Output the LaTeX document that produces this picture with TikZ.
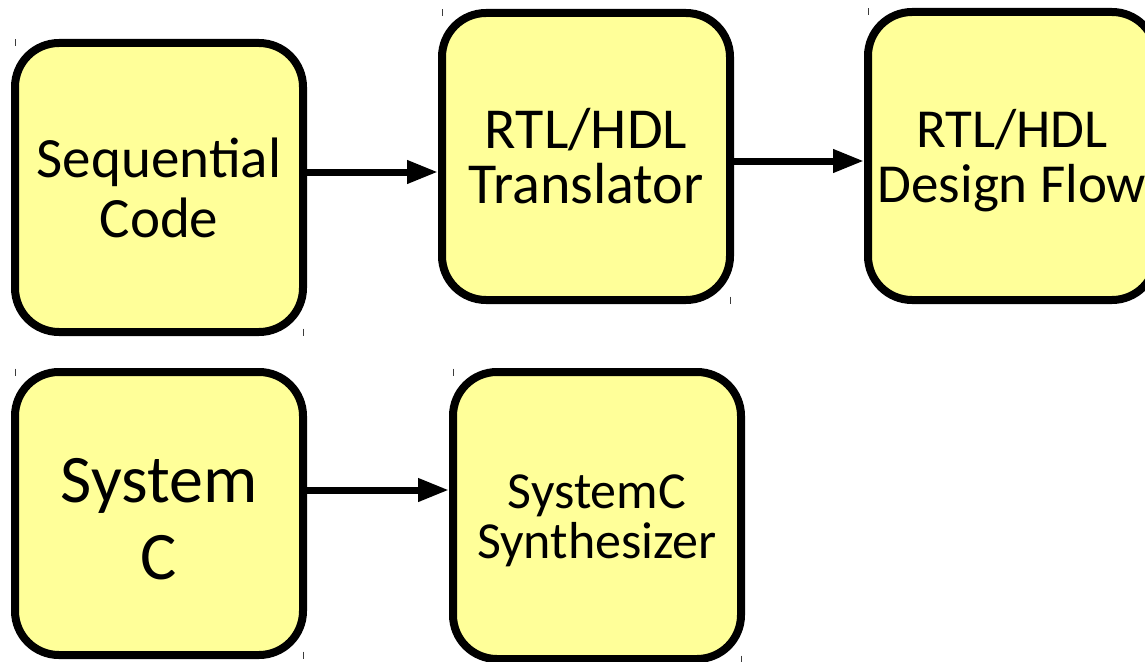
\documentclass[tikz,border=0pt]{standalone}
\usepackage{fontspec}
\setmainfont{Carlito}
\usetikzlibrary{arrows.meta}
\definecolor{boxfill}{RGB}{255,255,153}
\definecolor{tickcol}{RGB}{60,60,60}
\tikzset{
  blockbox/.style={draw=black, fill=boxfill, line width=8pt, rounded corners=44pt,
    outer sep=0pt, inner sep=0pt},
  blocktext/.style={align=center, text=black, inner sep=0pt},
  arr/.style={line width=7pt, -{Triangle[length=31pt,width=22pt]}, shorten >=4pt},
  tickmark/.style={draw=tickcol, line width=1pt}
}
\begin{document}
\begin{tikzpicture}[x=1pt,y=-1pt]
\useasboundingbox (0,0) rectangle (1145,661);
\clip (0,0) rectangle (1145,661);
\node[blockbox, minimum width=288pt, minimum height=289pt] (seq) at (159,187.5) {};
\node[blockbox, minimum width=288pt, minimum height=287pt] (trans) at (586,156.5) {};
\node[blockbox, minimum width=288pt, minimum height=288pt] (flow) at (1012,156) {};
\node[blockbox, minimum width=288pt, minimum height=283pt] (sysc) at (159,513.5) {};
\node[blockbox, minimum width=288pt, minimum height=287pt] (synth) at (597,515.5) {};

\node[blocktext, font=\fontsize{57}{60}\selectfont] (seqt) at ([yshift=0pt]seq.center) {Sequential\\Code};
\node[blocktext, font=\fontsize{58}{55}\selectfont] (transt) at ([yshift=0pt]trans.center) {RTL/HDL\\Translator};
\node[blocktext, font=\fontsize{55}{55}\selectfont] (flowt) at ([yshift=-5pt]flow.center) {RTL/HDL\\Design Flow};
\node[blocktext, font=\fontsize{68}{77}\selectfont] (sysct) at ([yshift=-6pt]sysc.center) {System\\C};
\node[blocktext, font=\fontsize{52}{50}\selectfont] (syntht) at ([yshift=-5pt]synth.center) {SystemC\\Synthesizer};

\draw[arr] ([yshift=15.5pt]seq.east) -- ([yshift=15.5pt]seq.east -| trans.west);
\draw[arr] ([yshift=-4.5pt]trans.east) -- ([yshift=-4.5pt]trans.east -| flow.west);
\draw[arr] ([yshift=23.5pt]sysc.east) -- ([yshift=23.5pt]sysc.east -| synth.west);

\foreach \n in {seq,trans,flow,sysc,synth}{
  \draw[tickmark] ([yshift=3.5pt]\n.north west) -- ([yshift=-3.5pt]\n.north west);
  \draw[tickmark] ([yshift=3.5pt]\n.south east) -- ([yshift=-3.5pt]\n.south east);
}
\end{tikzpicture}
\end{document}
